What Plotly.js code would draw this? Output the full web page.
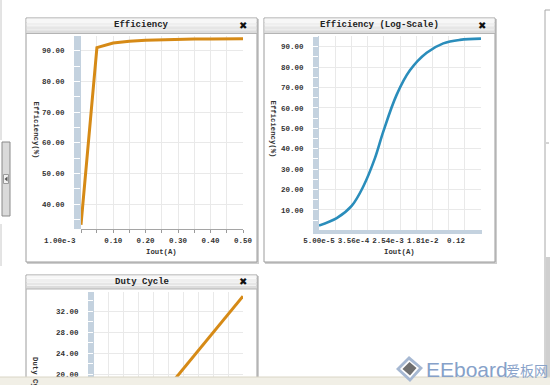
<!DOCTYPE html>
<html><head><meta charset="utf-8">
<script src="https://cdn.plot.ly/plotly-3.0.1.min.js"></script>
<style>html,body{margin:0;padding:0;background:#fff;overflow:hidden;width:550px;height:385px}</style>
</head><body><div id="chart" style="width:550px;height:385px"></div>
<script>
// ---- data ----
const effX = [0.001, 0.05, 0.1, 0.15, 0.2, 0.25, 0.3, 0.35, 0.4, 0.45, 0.5];
const effY = [33.2, 91.0, 92.5, 93.1, 93.4, 93.6, 93.7, 93.8, 93.8, 93.9, 93.9];
const logX = [5e-5, 1.37e-4, 3.2e-4, 6.2e-4, 1.21e-3, 1.94e-3, 4.15e-3, 8.8e-3, 2.28e-2, 5.87e-2, 0.151, 0.5];
const logY = [2.4, 6.0, 12.0, 21.5, 35.5, 48.5, 66.5, 78.4, 87.0, 91.6, 93.3, 93.9];
const dutyX = [0.25, 0.3, 0.35, 0.4, 0.45, 0.5];
const dutyY = [17.6, 21.1, 24.6, 28.0, 31.5, 34.9];

const effXTickVals = [0.001, 0.1, 0.2, 0.3, 0.4, 0.5];
const effXTickText = ['1.00e-3', '0.10', '0.20', '0.30', '0.40', '0.50'];
const effYTickVals = [40, 50, 60, 70, 80, 90];
const logXTickVals = [5e-5, 3.56e-4, 2.54e-3, 1.81e-2, 0.12];
const logXTickText = ['5.00e-5', '3.56e-4', '2.54e-3', '1.81e-2', '0.12'];
const logXGridVals = [5e-5, 1.26e-4, 3.15e-4, 7.92e-4, 1.99e-3, 5e-3, 1.26e-2, 3.15e-2, 7.92e-2, 0.199, 0.5];
const logYTickVals = [10, 20, 30, 40, 50, 60, 70, 80, 90];
const dutyYTickVals = [20, 24, 28, 32];

const panelTitles = ['Efficiency', 'Efficiency (Log-Scale)', 'Duty Cycle'];
const yTitles = ['Efficiency(%)', 'Efficiency(%)', 'Duty Cycle(%)'];
const xTitle = 'Iout(A)';

// ---- helpers (pixel -> paper) ----
const W = 550, H = 385;
const X = p => p / W;
const Y = p => 1 - p / H;
const rect = (x0, y0, x1, y1, fill, line, lw, layer) => ({
  type: 'rect', xref: 'paper', yref: 'paper', x0: X(x0), x1: X(x1), y0: Y(y1), y1: Y(y0),
  fillcolor: fill, line: {color: line || fill, width: line ? (lw || 1) : 0}, layer: layer || 'below'
});
const lineS = (x0, y0, x1, y1, color, w, layer) => ({
  type: 'line', xref: 'paper', yref: 'paper', x0: X(x0), x1: X(x1), y0: Y(y0), y1: Y(y1),
  line: {color: color, width: w || 1}, layer: layer || 'below'
});
const pathS = (pts, fill, layer) => ({
  type: 'path', xref: 'paper', yref: 'paper',
  path: 'M ' + pts.map(p => X(p[0]).toFixed(5) + ',' + Y(p[1]).toFixed(5)).join(' L ') + ' Z',
  fillcolor: fill, line: {width: 0}, layer: layer || 'below'
});

const shapes = [];
function panel(x0, y0, x1, y1, hb) {
  shapes.push(rect(x0 + 1, y0 + 1, x1 + 2, y1 + 2, '#cdcdcd'));
  shapes.push(rect(x0, y0, x1, y1, '#ffffff', '#9c9c9c', 1));
  const cols = ['#f7f7f7', '#efefef', '#e6e6e6', '#dcdcdc'];
  const hh = (hb - y0) / cols.length;
  cols.forEach((c, i) => shapes.push(rect(x0 + 0.5, y0 + 0.5 + i * hh, x1 - 0.5, y0 + (i + 1) * hh, c)));
  shapes.push(lineS(x0, hb, x1, hb, '#b4b4b4', 1));
}
panel(26, 18, 257, 262, 33.5);
panel(264, 18, 495, 262, 33.5);
panel(26, 275, 257, 420, 289);

// axis bands
const band = '#c4d2df';
shapes.push(rect(74, 36, 81, 229, band));
shapes.push(rect(313, 36, 319, 230, band));
shapes.push(rect(313, 230, 482, 234, band));
shapes.push(rect(88, 292, 94, 385, band));

// left widget
shapes.push(lineS(1, 0, 1, 140, '#c8c8c8', 1));
shapes.push(lineS(1, 224, 1, 266, '#c8c8c8', 1));
shapes.push(rect(2, 142, 10, 216, '#dadada', '#8a8a8a', 1));
shapes.push(rect(3.5, 174.5, 8.5, 183.5, '#f2f2f2', '#9a9a9a', 1));
shapes.push(pathS([[4.5, 179], [7.5, 176.5], [7.5, 181.5]], '#555'));

// right edge
shapes.push(lineS(545, 10, 545, 385, '#a8a8a8', 1));
shapes.push(lineS(545, 10, 550, 10, '#a8a8a8', 1));
shapes.push(rect(546, 257, 550, 385, '#cfcfcf'));
shapes.push(lineS(546, 143, 549, 143, '#aaaaaa', 1));

// status bar + watermark icon (on top)
shapes.push(rect(0, 377, 550, 385, '#f1efe6', null, 0, 'above'));
shapes.push(lineS(0, 377, 550, 377, '#dad6c6', 1, 'above'));
shapes.push(pathS([[396, 369], [409, 356], [423, 368], [410, 382]], '#a6b8d2', 'above'));
shapes.push(pathS([[400, 369], [409, 360], [419, 368], [410, 378]], '#ffffff', 'above'));
shapes.push(pathS([[402.5, 369], [409.5, 362], [416.5, 368], [410, 375.5]], '#6f6f6f', 'above'));

const monoB = 'Liberation Mono, DejaVu Sans Mono, monospace';
const tickFont = {family: monoB, size: 7.5, color: '#333', weight: 'bold'};
const titleFont = {family: monoB, size: 9, color: '#222', weight: 'bold'};
const axTitleFont = {family: monoB, size: 7.3, color: '#333', weight: 'bold'};
const grid = '#e9e9e9';

const annotations = [];
const ann = (px, py, text, font, extra) => annotations.push(Object.assign({
  xref: 'paper', yref: 'paper', x: X(px), y: Y(py), text: text, showarrow: false, font: font,
  xanchor: 'center', yanchor: 'middle'
}, extra || {}));
ann(141.5, 25.5, panelTitles[0], titleFont);
ann(379.5, 25.5, panelTitles[1], titleFont);
ann(141.5, 282, panelTitles[2], titleFont);
const closeFont = {family: 'DejaVu Sans', size: 10, color: '#111', weight: 'bold'};
ann(243, 25, '\u2716', closeFont);
ann(482, 25, '\u2716', closeFont);
ann(243, 281.5, '\u2716', closeFont);
ann(35.5, 130, yTitles[0], axTitleFont, {textangle: 90});
ann(272.5, 129, yTitles[1], axTitleFont, {textangle: 90});
ann(35, 386, yTitles[2], axTitleFont, {textangle: 90});
ann(161, 252, xTitle, axTitleFont);
ann(399, 252, xTitle, axTitleFont);
// first x tick label of panel 1 sits left of its tick, as in the original
ann(78, 240.5, effXTickText[0], tickFont, {xanchor: 'right'});
ann(424, 369, 'EEboard', {family: 'Liberation Sans, Arial', size: 21, color: '#86a1c9'}, {xanchor: 'left'});
ann(504, 370, '爱板网', {family: 'Noto Sans CJK SC', size: 14, color: '#8aa3ca'}, {xanchor: 'left'});

const yCommon = {
  ticks: 'outside', ticklen: 7, tickwidth: 1, tickcolor: '#ffffff', showline: false, zeroline: false,
  showgrid: true, gridcolor: grid, gridwidth: 1, tickfont: tickFont, tickformat: '.2f',
  tickmode: 'array', ticklabelstandoff: 7, fixedrange: true
};

const traces = [
  {x: effX, y: effY, xaxis: 'x', yaxis: 'y', type: 'scatter', mode: 'lines',
   line: {color: '#d68a16', width: 3}, hoverinfo: 'skip'},
  {x: logX, y: logY, xaxis: 'x2', yaxis: 'y2', type: 'scatter', mode: 'lines',
   line: {color: '#2a8dbb', width: 2.6, shape: 'spline', smoothing: 1}, hoverinfo: 'skip'},
  {x: dutyX, y: dutyY, xaxis: 'x3', yaxis: 'y3', type: 'scatter', mode: 'lines',
   line: {color: '#d68a16', width: 3}, hoverinfo: 'skip'}
];

const layout = {
  width: W, height: H, margin: {l: 0, r: 0, t: 0, b: 0},
  paper_bgcolor: '#ffffff', plot_bgcolor: 'rgba(0,0,0,0)', showlegend: false,
  xaxis: {domain: [X(81), X(243)], anchor: 'y', range: [0.001, 0.5], tickmode: 'array',
    tickvals: effXTickVals, ticktext: [''].concat(effXTickText.slice(1)), tickangle: 0, ticks: 'outside', ticklen: 3, tickcolor: '#9a9a9a',
    showline: true, linecolor: '#a5a5a5', linewidth: 1, zeroline: false, showgrid: false,
    tickfont: tickFont, ticklabelstandoff: 1, fixedrange: true,
    minor: {tick0: 0, dtick: 0.05, ticks: 'outside', ticklen: 3, tickcolor: '#9a9a9a', showgrid: true, gridcolor: grid}},
  yaxis: Object.assign({}, yCommon, {domain: [Y(229), Y(36)], anchor: 'x', range: [31.85, 94.8],
    tickvals: effYTickVals, minor: {tick0: 0, dtick: 5, ticks: 'outside', ticklen: 7, tickcolor: '#ffffff', showgrid: false}}),
  xaxis2: {domain: [X(319), X(481)], anchor: 'y2', type: 'log', range: [Math.log10(5e-5), Math.log10(0.5)],
    tickmode: 'array', tickvals: logXTickVals, ticktext: logXTickText, tickangle: 0, ticks: '', showline: false,
    zeroline: false, showgrid: false, tickfont: tickFont, ticklabelstandoff: 4, fixedrange: true,
    minor: {tickmode: 'array', tickvals: logXGridVals, ticks: '', showgrid: true, gridcolor: grid}},
  yaxis2: Object.assign({}, yCommon, {domain: [Y(230), Y(36)], anchor: 'x2', range: [0.2, 95.2],
    tickvals: logYTickVals, minor: {tick0: 0, dtick: 5, ticks: 'outside', ticklen: 6, tickcolor: '#ffffff', showgrid: false}, ticklen: 6}),
  xaxis3: {domain: [X(94), X(243)], anchor: 'y3', range: [0, 0.5], dtick: 0.05, tick0: 0,
    showticklabels: false, ticks: '', showline: false, zeroline: false, showgrid: true, gridcolor: grid, fixedrange: true},
  yaxis3: Object.assign({}, yCommon, {domain: [0, Y(292)], anchor: 'x3', range: [17.95, 35.7],
    tickvals: dutyYTickVals, ticklen: 6, minor: {tick0: 0, dtick: 2, ticks: 'outside', ticklen: 6, tickcolor: '#ffffff', showgrid: false}}),
  shapes: shapes,
  annotations: annotations
};

Plotly.newPlot('chart', traces, layout, {staticPlot: true, displayModeBar: false});
</script>
</body></html>
